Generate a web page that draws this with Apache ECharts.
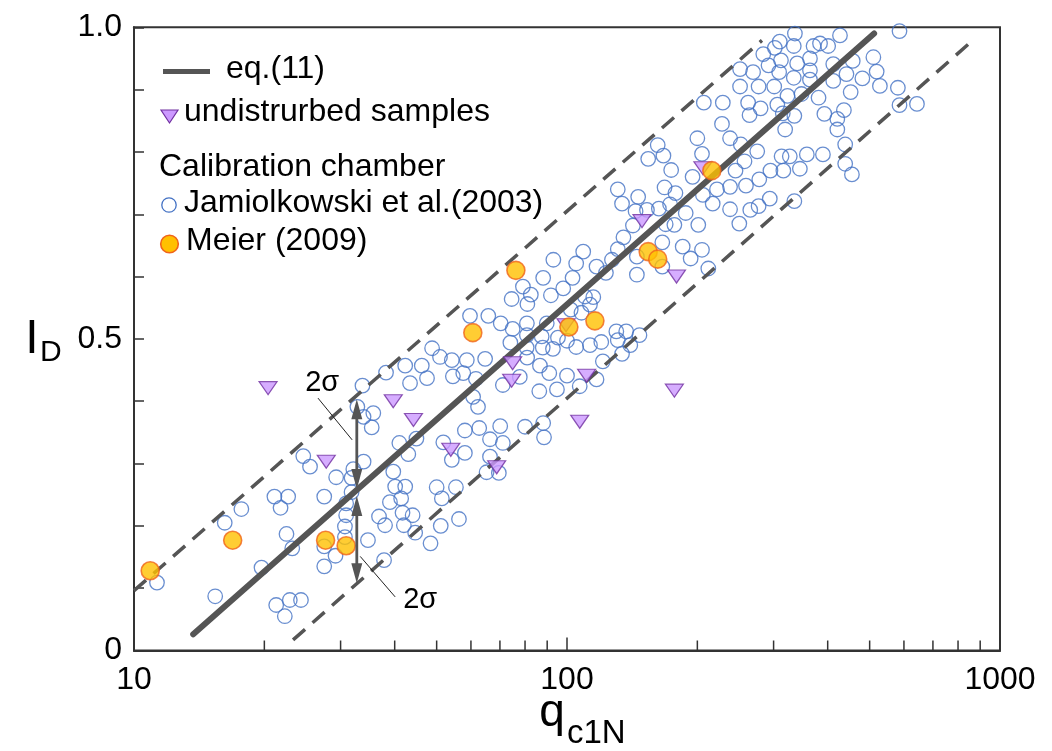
<!DOCTYPE html>
<html><head><meta charset="utf-8">
<script src="https://cdn.jsdelivr.net/npm/echarts@6.0.0/dist/echarts.min.js"></script>
<style>html,body{margin:0;padding:0;background:#fff}#c{width:1052px;height:751px}</style>
</head><body><div id="c"></div>
<script>
const FONT = "'Liberation Sans', Arial, sans-serif";
const xTickLabels = ['10', '100', '1000'];
const yTickValues = [0, 0.5, 1];
const yTickLabels = ['0', '0.5', '1.0'];
const xMinorTicks = [20, 30, 40, 50, 60, 70, 80, 90, 200, 300, 400, 500, 600, 700, 800, 900];

// Calibration chamber, Jamiolkowski et al. (2003): [qc1N, ID]
const jamiolkowski = [
  [11.3,0.109],[15.4,0.087],[16.2,0.205],[17.7,0.227],[19.7,0.133],[21.1,0.247],[22.7,0.247],[21.8,0.229],
  [22.5,0.187],[23.2,0.164],[21.3,0.073],[22.9,0.081],[24.3,0.081],[22.3,0.055],[24.6,0.312],[25.5,0.295],
  [29.3,0.278],[27.5,0.247],[27.5,0.167],[27.5,0.135],[29.2,0.152],[30.9,0.236],[30.9,0.217],[30.7,0.199],
  [30.7,0.182],[31.8,0.254],[31.8,0.277],[32.1,0.291],[33.9,0.303],[32.8,0.391],[33.7,0.425],[33.9,0.375],
  [35.7,0.381],[35.4,0.358],[34.7,0.177],[37.8,0.145],[36.8,0.215],[38.0,0.201],[39.7,0.287],[40.1,0.263],
  [42.3,0.263],[41.4,0.244],[39.0,0.238],[41.7,0.221],[44.0,0.217],[42.0,0.201],[44.6,0.189],[41.0,0.333],
  [43.0,0.315],[44.9,0.340],[38.2,0.446],[42.3,0.457],[46.2,0.457],[43.4,0.429],[47.5,0.437],[48.8,0.485],
  [48.4,0.172],[50.0,0.262],[55.4,0.262],[51.4,0.244],[51.1,0.200],[56.3,0.211],[50.9,0.471],[54.2,0.466],
  [58.7,0.466],[64.7,0.468],[54.5,0.440],[57.6,0.445],[61.6,0.436],[60.7,0.407],[62.3,0.391],[59.7,0.537],
  [65.8,0.537],[70.3,0.525],[74.9,0.516],[80.8,0.525],[89.8,0.525],[80.8,0.506],[74.0,0.494],[80.7,0.486],
  [80.9,0.470],[87.4,0.504],[87.9,0.486],[92.8,0.484],[95.3,0.502],[100,0.497],[105,0.487],[113,0.490],
  [120,0.495],[71.1,0.426],[77.8,0.439],[86.6,0.457],[91.0,0.445],[100,0.441],[86.3,0.416],[94.8,0.419],
  [107,0.424],[117,0.435],[58.1,0.353],[62.7,0.357],[66.4,0.339],[70.1,0.360],[71.1,0.333],[80.0,0.359],
  [88.1,0.365],[88.5,0.342],[51.8,0.334],[54.2,0.306],[58.1,0.317],[66.4,0.311],[65.2,0.286],[69.6,0.285],
  [93.0,0.627],[88.1,0.598],[103,0.598],[98.0,0.581],[91.8,0.570],[79.1,0.584],[82.5,0.571],[74.5,0.564],
  [81.0,0.556],[105,0.621],[109,0.640],[102,0.547],[108,0.542],[110,0.568],[115,0.567],[113,0.555],
  [123,0.606],[117,0.616],[127,0.627],[131,0.644],[135,0.663],[142,0.682],[145,0.632],[145,0.603],
  [166,0.655],[185,0.648],[193,0.629],[205,0.643],[212,0.613],[166,0.616],[134,0.717],[144,0.705],
  [163,0.709],[173,0.716],[188,0.702],[201,0.683],[177,0.683],[169,0.684],[153,0.707],[131,0.740],
  [146,0.728],[168,0.743],[178,0.734],[154,0.789],[167,0.794],[174,0.771],[195,0.760],[162,0.811],
  [200,0.822],[205,0.797],[207,0.879],[229,0.879],[228,0.845],[206,0.731],[217,0.717],[222,0.740],
  [238,0.744],[245,0.770],[257,0.785],[275,0.801],[278,0.756],[295,0.770],[259,0.746],[238,0.708],
  [265,0.707],[277,0.713],[294,0.725],[250,0.685],[336,0.990],[427,0.987],[586,0.994],[310,0.977],
  [302,0.967],[334,0.970],[371,0.970],[384,0.974],[401,0.970],[284,0.957],[312,0.947],[292,0.939],
  [340,0.942],[364,0.950],[412,0.941],[457,0.946],[510,0.952],[519,0.929],[251,0.933],[269,0.928],
  [309,0.928],[364,0.931],[334,0.919],[364,0.916],[412,0.914],[442,0.925],[481,0.918],[528,0.906],
  [581,0.903],[251,0.905],[277,0.905],[301,0.905],[323,0.890],[348,0.893],[381,0.887],[452,0.896],
  [262,0.879],[280,0.870],[306,0.876],[264,0.859],[315,0.862],[335,0.858],[436,0.867],[393,0.861],
  [421,0.853],[586,0.875],[643,0.877],[319,0.836],[421,0.836],[238,0.822],[252,0.812],[439,0.812],
  [313,0.793],[327,0.793],[358,0.796],[390,0.796],[316,0.770],[345,0.773],[439,0.781],[455,0.764],
  [335,0.721],[130,0.512],[137,0.512],[147,0.506],[131,0.498],[140,0.490],[134,0.476],[121,0.464]
];

// Calibration chamber, Meier (2009)
const meier = [
  [10.9,0.128],[16.9,0.177],[27.7,0.177],[30.9,0.168],[60.6,0.510],[76.2,0.610],
  [101,0.519],[116,0.529],[154,0.640],[162,0.628],[216,0.770]
];

// undisturbed samples
const undisturbed = [
  [20.4,0.421],[27.8,0.303],[39.7,0.400],[44.2,0.370],[53.9,0.322],[68.8,0.294],[74.9,0.461],[74.5,0.433],
  [99.5,0.522],[107,0.367],[111,0.441],[149,0.689],[179,0.600],[177,0.417],[206,0.774]
];

// eq.(11) and ±2σ bounds (end points)
const eqLine = [[13.7,0.026],[512,0.99]];
const upperBound = [[10,0.096],[282,0.979]];
const lowerBound = [[23.3,0.017],[852,0.975]];

// 2σ annotation: double arrows [x, yTipA, yTipB], leader lines [x1,y1,x2,y2], labels [x,y]
const sigmaArrows = [[32.7,0.403,0.259],[32.7,0.248,0.108]];
const sigmaLeaders = [[26.6,0.405,31.9,0.338],[33.3,0.151,40.1,0.086]];
const sigmaLabelPos = [[27.2,0.429],[45.8,0.081]];
const sigmaLabelText = ['2σ','2σ'];

const chart = echarts.init(document.getElementById('c'), null, {renderer:'canvas'});

const option = {
  animation: false,
  backgroundColor: '#fff',
  grid: {left:134, right:52, top:27.3, bottom:100.5, show:true, borderColor:'#333', borderWidth:2,
         backgroundColor:'transparent', containLabel:false, outerBoundsMode:'none'},
  xAxis: {
    type:'log', logBase:10, min:10, max:1000,
    axisLine:{show:true, onZero:false, lineStyle:{color:'#333', width:2}},
    axisTick:{show:true, inside:true, length:13, lineStyle:{color:'#333', width:1.5}},
    minorTick:{show:false},
    splitLine:{show:false},
    axisLabel:{show:true, margin:14, fontSize:32, color:'#000', fontFamily:FONT,
      showMinLabel:true, showMaxLabel:true,
      formatter: v => { const s = String(Math.round(v)); return xTickLabels.includes(s) ? s : ''; }}
  },
  yAxis: {
    type:'value', min:0, max:1, interval:0.1,
    axisLine:{show:true, onZero:false, lineStyle:{color:'#333', width:2}},
    axisTick:{show:true, inside:true, length:10, lineStyle:{color:'#333', width:1.5}},
    splitLine:{show:false},
    axisLabel:{show:true, margin:12, fontSize:32, color:'#000', fontFamily:FONT,
      showMinLabel:true, showMaxLabel:true,
      formatter: v => { for (let i=0;i<yTickValues.length;i++){ if (Math.abs(v-yTickValues[i])<1e-6) return yTickLabels[i]; } return ''; }}
  },
  series: [
    { name:'Jamiolkowski et al.(2003)', type:'scatter', data:jamiolkowski, z:2,
      symbol:'circle', symbolSize:14.5,
      itemStyle:{color:'rgba(0,0,0,0)', borderColor:'#4472c4', borderWidth:1.3}, silent:true },
    { name:'minor ticks', type:'custom', data:xMinorTicks.map(v=>[v,0]), z:3, silent:true, clip:false,
      renderItem:(params, api) => {
        const p = api.coord([api.value(0), 0]);
        return {type:'line', shape:{x1:p[0], y1:p[1], x2:p[0], y2:p[1]-10}, style:{stroke:'#333', lineWidth:1.5}};
      }},
    { name:'upper', type:'line', data:upperBound, z:3, showSymbol:false, symbol:'none', silent:true,
      lineStyle:{color:'#555', width:3.5, type:[16,10]} },
    { name:'lower', type:'line', data:lowerBound, z:3, showSymbol:false, symbol:'none', silent:true,
      lineStyle:{color:'#555', width:3.5, type:[16,10]} },
    { name:'eq.(11)', type:'line', data:eqLine, z:3, showSymbol:false, symbol:'none', silent:true,
      lineStyle:{color:'#555', width:6, cap:'round'} },
    { name:'undistrurbed samples', type:'scatter', data:undisturbed, z:4,
      symbol:'triangle', symbolSize:[18,13], symbolRotate:180,
      itemStyle:{color:'#cc99ff', borderColor:'#7030a0', borderWidth:1.2}, silent:true },
    { name:'Meier (2009)', type:'scatter', data:meier, z:5,
      symbol:'circle', symbolSize:18,
      itemStyle:{color:'#ffc000', borderColor:'#f0641a', borderWidth:1.6}, silent:true },
    { name:'arrows', type:'custom', data:sigmaArrows, z:6, silent:true, clip:false,
      encode:{x:0, y:[1,2]},
      renderItem:(params, api) => {
        const a = api.coord([api.value(0), api.value(1)]);
        const b = api.coord([api.value(0), api.value(2)]);
        const hl = 20, hw = 5.5;
        const d = b[1] > a[1] ? 1 : -1;
        return {type:'group', children:[
          {type:'line', shape:{x1:a[0], y1:a[1]+d*hl*0.7, x2:b[0], y2:b[1]-d*hl*0.7}, style:{stroke:'#555', lineWidth:2.8}},
          {type:'polygon', shape:{points:[[a[0],a[1]],[a[0]-hw,a[1]+d*hl],[a[0]+hw,a[1]+d*hl]]}, style:{fill:'#555'}},
          {type:'polygon', shape:{points:[[b[0],b[1]],[b[0]-hw,b[1]-d*hl],[b[0]+hw,b[1]-d*hl]]}, style:{fill:'#555'}}
        ]};
      }},
    { name:'leaders', type:'custom', data:sigmaLeaders, z:6, silent:true, clip:false,
      encode:{x:[0,2], y:[1,3]},
      renderItem:(params, api) => {
        const a = api.coord([api.value(0), api.value(1)]);
        const b = api.coord([api.value(2), api.value(3)]);
        return {type:'line', shape:{x1:a[0], y1:a[1], x2:b[0], y2:b[1]}, style:{stroke:'#222', lineWidth:1}};
      }},
    { name:'labels', type:'custom', data:sigmaLabelPos, z:6, silent:true, clip:false,
      renderItem:(params, api) => {
        const p = api.coord([api.value(0), api.value(1)]);
        return {type:'text', x:p[0], y:p[1], style:{text:sigmaLabelText[params.dataIndex], fontSize:29,
          fontFamily:FONT, fill:'#000', align:'center', verticalAlign:'middle'}};
      }}
  ],
  graphic: [
    {type:'line', shape:{x1:163, y1:71.5, x2:210, y2:71.5}, style:{stroke:'#555', lineWidth:5}},
    {type:'text', x:226, y:69, style:{text:'eq.(11)', fontSize:32, fontFamily:FONT, fill:'#000', verticalAlign:'middle'}},
    {type:'polygon', shape:{points:[[161,110],[178,110],[169.5,123]]}, style:{fill:'#cc99ff', stroke:'#7030a0', lineWidth:1.2}},
    {type:'text', x:184, y:112, style:{text:'undistrurbed samples', fontSize:32, fontFamily:FONT, fill:'#000', verticalAlign:'middle'}},
    {type:'text', x:159, y:167, style:{text:'Calibration chamber', fontSize:32, fontFamily:FONT, fill:'#000', verticalAlign:'middle'}},
    {type:'circle', shape:{cx:169, cy:205, r:7.2}, style:{fill:'none', stroke:'#4472c4', lineWidth:1.3}},
    {type:'text', x:184, y:203, style:{text:'Jamiolkowski et al.(2003)', fontSize:32, fontFamily:FONT, fill:'#000', verticalAlign:'middle'}},
    {type:'circle', shape:{cx:169.5, cy:244, r:8.8}, style:{fill:'#ffc000', stroke:'#f0641a', lineWidth:1.6}},
    {type:'text', x:186, y:241, style:{text:'Meier (2009)', fontSize:32, fontFamily:FONT, fill:'#000', verticalAlign:'middle'}},
    {type:'text', x:552, y:713, style:{text:'q', fontSize:46, fontFamily:FONT, fill:'#000', align:'center', verticalAlign:'middle'}},
    {type:'text', x:567, y:734, style:{text:'c1N', fontSize:33, fontFamily:FONT, fill:'#000', verticalAlign:'middle'}},
    {type:'text', x:32, y:340, style:{text:'I', fontSize:48, fontFamily:FONT, fill:'#000', align:'center', verticalAlign:'middle'}},
    {type:'text', x:40, y:353, style:{text:'D', fontSize:30, fontFamily:FONT, fill:'#000', verticalAlign:'middle'}}
  ]
};
chart.setOption(option);
</script>
</body></html>
